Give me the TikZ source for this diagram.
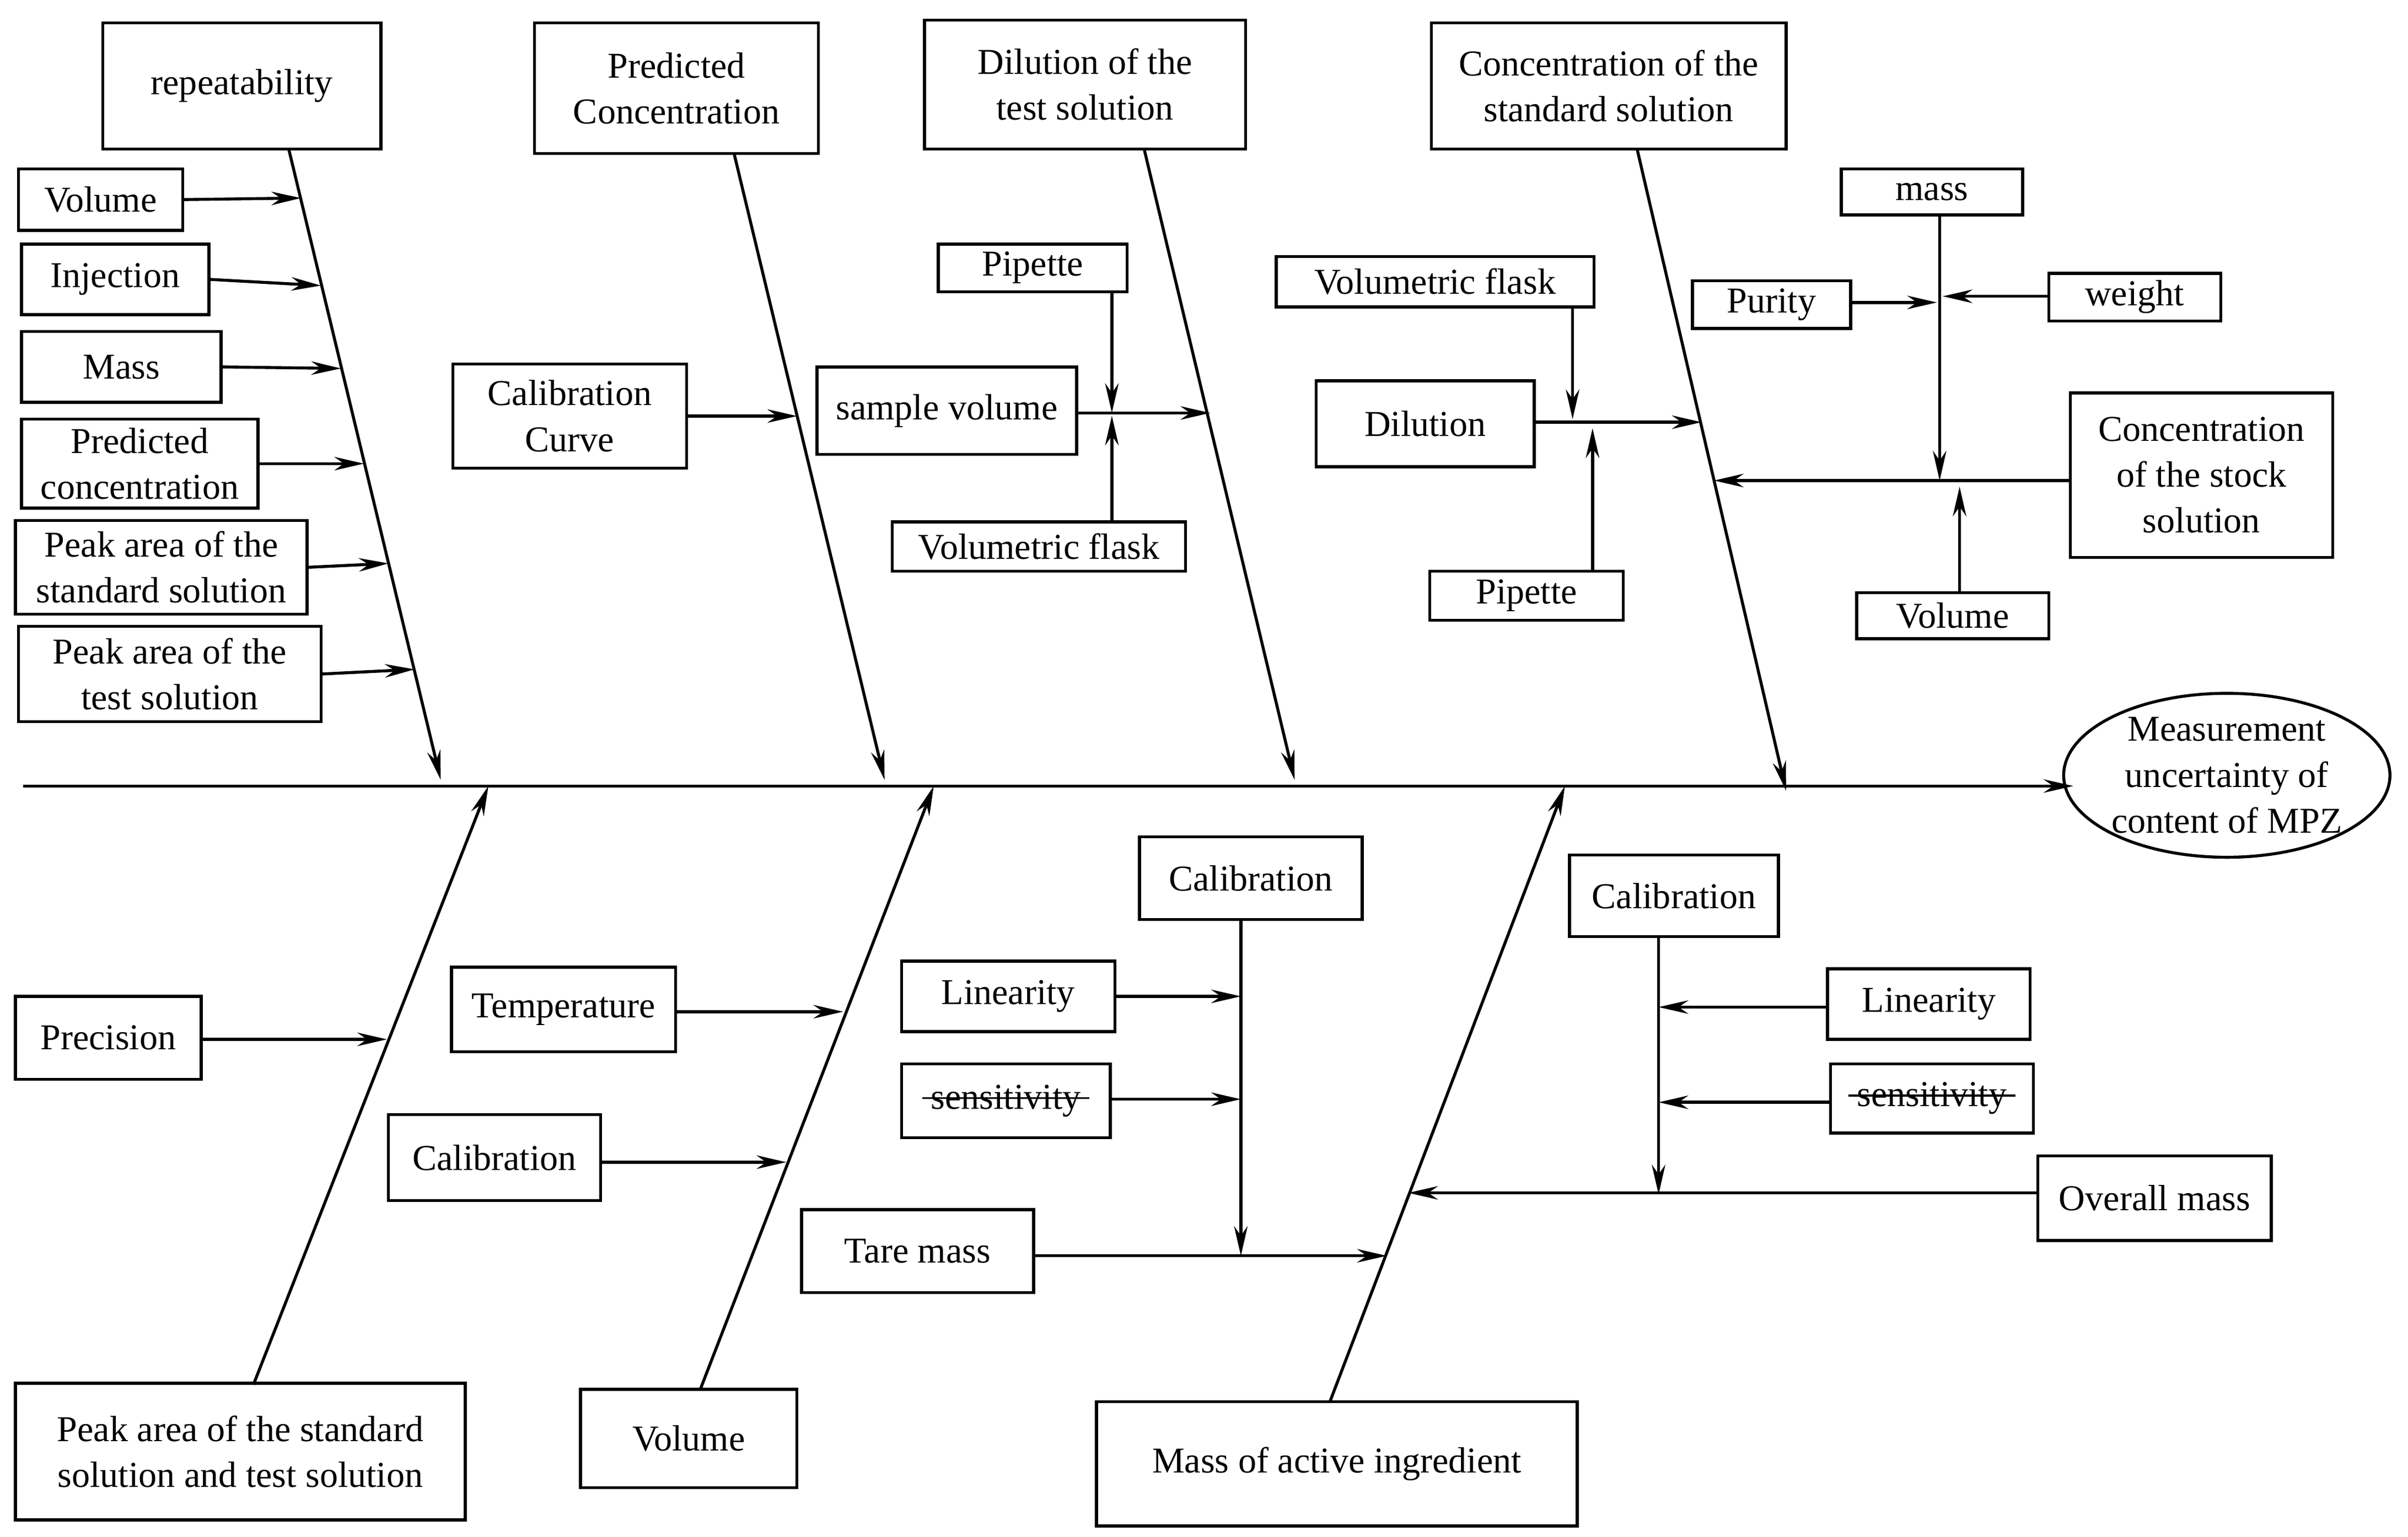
\documentclass[tikz,border=0pt]{standalone}
\usepackage{fontspec}
\setmainfont{Liberation Serif}
\usetikzlibrary{arrows.meta,shapes.geometric}
\tikzset{
 box/.style={draw,line width=1.1pt,inner sep=0pt,align=center,font=\fontsize{13.5}{17}\selectfont},
 arr/.style={line width=1.1pt,-{Stealth[length=11pt,width=5pt]}},
 strike/.style={line width=0.8pt}
}
\newcommand{\bx}[6]{\node[box,minimum width={(#4-#2)*0.2mm},minimum height={(#5-#3)*0.2mm}] (#1) at ({(#2+#4)/2},{(#3+#5)/2}) {#6};}
\begin{document}
\begin{tikzpicture}[x=0.2mm,y=-0.2mm]
\useasboundingbox (0,0) rectangle (1568,1001);
% spine
\coordinate (s0) at (15,512);
\node[draw,ellipse,line width=1.1pt,minimum width={194*0.2mm},minimum height={104*0.2mm},inner sep=0pt,align=center,font=\fontsize{13.5}{17}\selectfont] (eff) at (1450,505) {Measurement\\uncertainty of\\content of MPZ};
\draw[arr] (s0) -- (1350,512) coordinate (s1);
% top main boxes
\bx{rep}{67}{15}{248}{97}{repeatability}
\bx{pc}{348}{15}{533}{100}{Predicted\\Concentration}
\bx{dil}{602}{13}{811}{97}{Dilution of the\\test solution}
\bx{cs}{932}{15}{1163}{97}{Concentration of the\\standard solution}
\coordinate (rep0) at (188,97); \coordinate (rep1) at (287,508);
\coordinate (pc0) at (478,100); \coordinate (pc1) at (576,508);
\coordinate (dil0) at (745,97); \coordinate (dil1) at (843,508);
\coordinate (cs0) at (1066,97); \coordinate (cs1) at (1163,515);
\draw[arr] (rep0) -- (rep1);
\draw[arr] (pc0) -- (pc1);
\draw[arr] (dil0) -- (dil1);
\draw[arr] (cs0) -- (cs1);
% repeatability causes
\bx{v1}{12}{110}{119}{150}{Volume}
\bx{inj}{14}{159}{136}{205}{Injection}
\bx{ms}{14}{216}{144}{262}{Mass}
\bx{pcn}{14}{273}{168}{331}{Predicted\\concentration}
\bx{pas}{10}{339}{200}{400}{Peak area of the\\standard solution}
\bx{pat}{12}{408}{209}{470}{Peak area of the\\test solution}
\coordinate (r1) at (196,129); \coordinate (r2) at (209,186); \coordinate (r3) at (222,240);
\coordinate (r4) at (237,302); \coordinate (r5) at (253,367); \coordinate (r6) at (270,436);
\draw[arr] (v1.east) -- (r1);
\draw[arr] (inj.east) -- (r2);
\draw[arr] (ms.east) -- (r3);
\draw[arr] (pcn.east) -- (r4);
\draw[arr] (pas.east) -- (r5);
\draw[arr] (pat.east) -- (r6);
% predicted concentration
\bx{cc}{295}{237}{447}{305}{Calibration\\Curve}
\coordinate (p1) at (519,271);
\draw[arr] (cc.east) -- (p1);
% dilution
\bx{sv}{532}{239}{701}{296}{sample volume}
\bx{pip1}{611}{159}{734}{190}{Pipette}
\bx{vf1}{581}{340}{772}{372}{Volumetric flask}
\coordinate (d1) at (788,269); \coordinate (dj) at (724,269);
\draw[arr] (sv.east |- dj) -- (d1);
\draw[arr] (pip1.south -| dj) -- (dj);
\draw[arr] (vf1.north -| dj) -- ([yshift=-1pt]dj);
% concentration of std
\bx{vf2}{831}{167}{1038}{200}{Volumetric flask}
\bx{dl2}{857}{248}{999}{304}{Dilution}
\bx{pip2}{931}{372}{1057}{404}{Pipette}
\coordinate (c1) at (1108,275);
\coordinate (cj1) at (1024,273); \coordinate (cj2) at (1037,279);
\draw[arr] (dl2.east |- c1) -- (c1);
\draw[arr] (vf2.south -| cj1) -- (cj1);
\draw[arr] (pip2.north -| cj2) -- (cj2);
\bx{mass}{1199}{110}{1317}{140}{mass}
\bx{pur}{1102}{183}{1205}{214}{Purity}
\bx{wt}{1334}{178}{1446}{209}{weight}
\bx{stock}{1348}{256}{1519}{363}{Concentration\\of the stock\\solution}
\bx{vol2}{1209}{386}{1334}{416}{Volume}
\coordinate (c2) at (1116,313); \coordinate (mj) at (1263,313); \coordinate (mj2) at (1263,197);
\coordinate (vj) at (1276,317);
\draw[arr] (mass.south -| mj) -- (mj);
\draw[arr] (pur.east |- mj2) -- ([xshift=-1pt]mj2);
\draw[arr] (wt.west |- 0,193) -- (1265,193);
\draw[arr] (stock.west |- c2) -- (c2);
\draw[arr] (vol2.north -| vj) -- (vj);
% bottom bones
\bx{pst}{10}{901}{303}{990}{Peak area of the standard\\solution and test solution}
\bx{vol3}{378}{905}{519}{969}{Volume}
\bx{mai}{714}{913}{1027}{994}{Mass of active ingredient}
\coordinate (b10) at (165,902); \coordinate (b11) at (318,512);
\coordinate (b20) at (456,905); \coordinate (b21) at (608,512);
\coordinate (b30) at (866,913); \coordinate (b31) at (1019,512);
\draw[arr] (b10) -- (b11);
\draw[arr] (b20) -- (b21);
\draw[arr] (b30) -- (b31);
\bx{prec}{10}{649}{131}{703}{Precision}
\coordinate (q1) at (252,677);
\draw[arr] (prec.east |- q1) -- (q1);
\bx{temp}{294}{630}{440}{685}{Temperature}
\bx{cal1}{253}{726}{391}{782}{Calibration}
\coordinate (q2) at (549,659); \coordinate (q3) at (512,757);
\draw[arr] (temp.east |- q2) -- (q2);
\draw[arr] (cal1.east |- q3) -- (q3);
% tare mass group
\bx{cal2}{742}{545}{887}{599}{Calibration}
\bx{lin1}{587}{626}{726}{672}{Linearity}
\bx{sen1}{587}{693}{723}{741}{sensitivity}
\draw[strike] ([xshift=-31pt,yshift=1pt]sen1.center) -- ([xshift=31pt,yshift=1pt]sen1.center);
\bx{tare}{522}{788}{673}{842}{Tare mass}
\coordinate (tj) at (808,818); \coordinate (q4) at (903,818);
\draw[arr] (cal2.south -| tj) -- (tj);
\draw[arr] (lin1.east |- 0,649) -- (808,649);
\draw[arr] (sen1.east |- 0,716) -- (808,716);
\draw[arr] (tare.east |- q4) -- (q4);
% overall mass group
\bx{cal3}{1022}{557}{1158}{610}{Calibration}
\bx{lin2}{1190}{631}{1322}{677}{Linearity}
\bx{sen2}{1192}{693}{1324}{738}{sensitivity}
\draw[strike] ([xshift=-31pt,yshift=1pt]sen2.center) -- ([xshift=31pt,yshift=1pt]sen2.center);
\bx{om}{1327}{753}{1479}{808}{Overall mass}
\coordinate (oj) at (1080,778); \coordinate (q5) at (917,777);
\draw[arr] (cal3.south -| oj) -- (oj);
\draw[arr] (lin2.west |- 0,656) -- (1080,656);
\draw[arr] (sen2.west |- 0,718) -- (1080,718);
\draw[arr] (om.west |- q5) -- (q5);
\end{tikzpicture}
\end{document}
